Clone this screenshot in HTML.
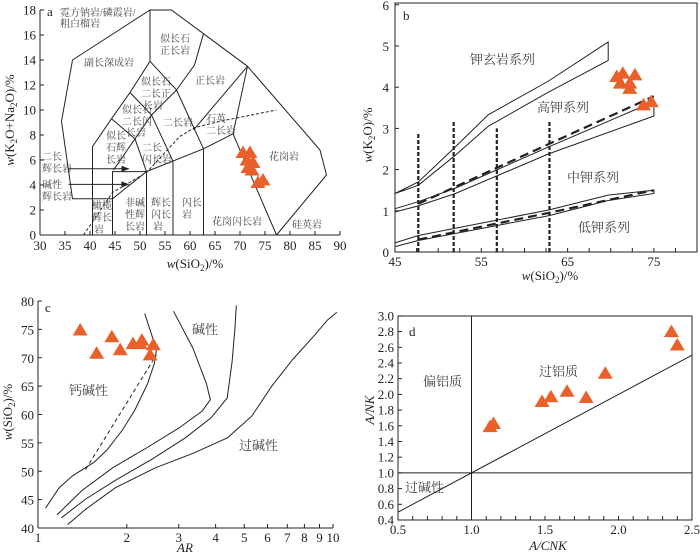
<!DOCTYPE html>
<html><head><meta charset="utf-8">
<style>
html,body{margin:0;padding:0;background:#fff;}
svg{display:block;}
.t{font-family:"Liberation Serif",serif;font-size:13px;fill:#222;}
.cn{font-family:"Liberation Serif","Noto Serif CJK SC",serif;font-size:10px;fill:#444;}
.cb{font-family:"Liberation Serif","Noto Serif CJK SC",serif;font-size:13px;fill:#444;}
</style></head>
<body>
<svg id="chart" width="700" height="553" viewBox="0 0 700 553" xmlns="http://www.w3.org/2000/svg"></svg>
<script>
// ---------- data ----------
const aSiO2 = [70.6, 72.0, 71.4, 72.6, 71.6, 72.4, 74.6, 73.6];
const aAlk  = [6.6, 6.6, 6.0, 5.8, 5.4, 5.2, 4.4, 4.2];
const aXTicks = [30,35,40,45,50,55,60,65,70,75,80,85,90];
const aYTicks = [0,2,4,6,8,10,12,14,16,18];
const bSiO2 = [70.7, 71.4, 72.8, 71.1, 72.2, 72.2, 73.8, 74.7];
const bK2O  = [4.26, 4.34, 4.30, 4.10, 4.10, 3.97, 3.57, 3.65];
const bXTicks = [45,55,65,75];
const bYTicks = [0,1,2,3,4,5,6];
const cAR   = [1.39, 1.58, 1.78, 1.90, 2.10, 2.22, 2.25, 2.46, 2.40];
const cSiO2 = [74.9, 70.8, 73.7, 71.4, 72.5, 72.5, 73.1, 72.3, 70.5];
const cXTicks = [1,2,3,4,5,6,7,8,9,10];
const cYTicks = [40,45,50,55,60,65,70,75,80];
const dACNK = [1.126, 1.15, 1.48, 1.54, 1.65, 1.78, 1.91, 2.36, 2.40];
const dANK  = [1.59, 1.63, 1.91, 1.97, 2.04, 1.96, 2.27, 2.80, 2.63];
const dXTicks = [0.5,1.0,1.5,2.0,2.5];
const dYTicks = [0.4,0.6,0.8,1.0,1.2,1.4,1.6,1.8,2.0,2.2,2.4,2.6,2.8,3.0];

const ax=v=>40+(v-30)*5, ay=v=>235-v*12.5;
const bx=v=>395+(v-45)*8.63, by=v=>252-v*41.2;
const cx=v=>38+Math.log10(v)*295, cy=v=>528-(v-40)*5.675;
const dx=v=>398+(v-0.5)*147, dy=v=>520-(v-0.4)*78.5;

const NS='http://www.w3.org/2000/svg';
const svg=document.getElementById('chart');
function mk(tag,attrs,parent){const e=document.createElementNS(NS,tag);for(const k in attrs)e.setAttribute(k,attrs[k]);(parent||svg).appendChild(e);return e;}
function poly(pts,fx,fy,style){return mk('polyline',Object.assign({points:pts.map(p=>fx(p[0]).toFixed(1)+','+fy(p[1]).toFixed(1)).join(' '),fill:'none',stroke:'#222','stroke-width':1},style||{}));}
function txt(x,y,s,cls,anchor){const e=mk('text',{x:x,y:y,class:cls,'text-anchor':anchor||'start'});e.textContent=s;return e;}
function tri(x,y){return mk('polygon',{points:`${x},${y-7} ${x-7.5},${y+5.5} ${x+7.5},${y+5.5}`,fill:'#E8602A'});}
function line(x1,y1,x2,y2,w){return mk('line',{x1:x1,y1:y1,x2:x2,y2:y2,stroke:'#222','stroke-width':w||1});}

// ================= Panel a =================
let e;
e=line(40,10,40,235);


e=line(40,235,340,235);


aYTicks.forEach(v=>{
  e=line(40,ay(v),44,ay(v));
  
  
  e=txt(36,ay(v)+4.5,String(v),'t','end');
  
  
});
aXTicks.forEach(v=>{
  e=line(ax(v),235,ax(v),231);
  
  
  e=txt(ax(v),250,String(v),'t','middle');
  
  
});
const aFields=[
 [[44.5,2.9],[36.5,2.9],[34.3,9.1],[36.5,14],[52,18],[56.3,18],[62.7,16.1],[71.5,13.5],[86,6.8],[87.3,4.8],[77.3,0]],
 [[40.5,0],[40.5,7.07],[44.3,9.3],[48,11.4],[52,13.9],[52,18]],
 [[52,13.9],[57.3,11.6],[60.9,13.6],[62.7,16.1]],
 [[44.3,9.3],[49,7.7],[51.3,5.07]],
 [[48,11.4],[52.3,9.6],[56.6,5.9],[56.6,0]],
 [[44.7,5.2],[49,7.7],[52.3,9.6],[57.3,11.6]],
 [[57.3,11.6],[62.7,6.9],[62.7,0]],
 [[60.7,8.4],[71.5,13.5]],
 [[71.5,13.5],[68.6,8.1],[77.3,0]],
 [[51.3,5.07],[62.7,6.9],[68.6,8.1]],
 [[44.5,0],[44.5,5.07],[51.3,5.07],[51.3,0]],
 [[44.5,2.9],[51.3,5.07]]
];
aFields.forEach(f=>{
  e=poly(f,ax,ay);
  
  
});
e=poly([[38.7,0],[44.5,3.4],[51.3,5.0],[55,6.6],[58,7.9],[61,8.6],[66,9.1],[77.3,10]],ax,ay,{'stroke-dasharray':'3,2'});


mk('defs',{}).innerHTML='<marker id="arr" markerWidth="8" markerHeight="6" refX="7" refY="3" orient="auto"><path d="M0,0 L8,3 L0,6 z" fill="#222"/></marker>';
[5.3,4.05].forEach(v=>{
  e=mk('line',{x1:ax(35.7),y1:ay(v),x2:ax(47.7),y2:ay(v),stroke:'#222','stroke-width':1,'marker-end':'url(#arr)'});
  
  
});
const aLabels=[[47,16,'a','t'],[60,16,'霓方钠岩/磷霞岩/','cn'],[60,27,'粗白榴岩','cn'],
 [160,42,'似长石','cn'],[160,54,'正长岩','cn'],[84,66,'副长深成岩','cn'],
 [141,85,'似长石','cn'],[141,97,'二长正','cn'],[143,109,'长岩','cn'],[195,84,'正长岩','cn'],
 [122,113,'似长石','cn'],[122,125,'二长闪','cn'],[126,136,'长岩','cn'],
 [106,139,'似长','cn'],[106,151,'石辉','cn'],[106,163,'长岩','cn'],
 [163,126,'二长岩','cn'],[206,122,'石英','cn'],[206,134,'二长岩','cn'],
 [142,151,'二长','cn'],[142,163,'闪长岩','cn'],[42,160,'二长','cn'],[42,172,'辉长岩','cn'],
 [42,188,'碱性','cn'],[42,200,'辉长岩','cn'],[269,160,'花岗岩','cn'],
 [92,209,'橄榄','cn'],[92,221,'辉长','cn'],[94,233,'岩','cn'],
 [125,206,'非碱','cn'],[125,218,'性辉','cn'],[125,230,'长岩','cn'],
 [151,206,'辉长','cn'],[151,218,'闪长','cn'],[153,230,'岩','cn'],
 [182,206,'闪长','cn'],[182,218,'岩','cn'],[212,225,'花岗闪长岩','cn'],[292,228,'硅英岩','cn']];
aLabels.forEach(l=>{
  e=txt(l[0],l[1],l[2],l[3]);
  
  
});
e=mk('text',{x:195,y:268,class:'t','text-anchor':'middle'});
e.innerHTML='<tspan font-style="italic">w</tspan>(SiO<tspan font-size="9" dy="3">2</tspan><tspan dy="-3">)/%</tspan>';


e=mk('text',{x:0,y:0,class:'t','text-anchor':'middle',transform:'translate(14,120) rotate(-90)'});
e.innerHTML='<tspan font-style="italic">w</tspan>(K<tspan font-size="9" dy="3">2</tspan><tspan dy="-3">O+Na</tspan><tspan font-size="9" dy="3">2</tspan><tspan dy="-3">O)/%</tspan>';


aSiO2.forEach((v,i)=>{
  e=tri(ax(v),ay(aAlk[i]));
  
  
});

// ================= Panel b =================
e=mk('rect',{x:395,y:3,width:302,height:249,fill:'none',stroke:'#222','stroke-width':1});


bYTicks.forEach(v=>{
  e=line(395,by(v),399,by(v));
  
  
  e=txt(389,by(v)+5,String(v),'t','end');
  
  
});
for(let v=45;v<=79;v+=2.5){
  e=line(bx(v),252,bx(v),248);
  
  
}
bXTicks.forEach(v=>{
  e=txt(bx(v),266,String(v),'t','middle');
  
  
});
const bLines=[
 [[45,1.42],[47.7,1.7],[52,2.55],[55.8,3.33],[62.8,4.15],[69.7,5.1],[69.7,4.65],[62.8,3.88],[55.8,3.05],[52,2.35],[47.7,1.62],[45,1.42]],
 [[45,1.05],[47.7,1.22],[52,1.55],[62.8,2.55],[70,3.2],[75,3.65],[75,3.3],[62.8,2.38],[52,1.42],[47.7,1.12],[45,0.97]],
 [[45,0.22],[47.7,0.4],[62.8,1.02],[69.7,1.38],[75,1.5],[75,1.42],[69.7,1.25],[62.8,0.88],[47.7,0.28],[45,0.13]]
];
bLines.forEach(f=>{
  e=poly(f,bx,by);
  
  
});
[[[47.7,1.17],[62.8,2.62],[75,3.78]],[[47.7,0.3],[62.8,0.95],[75,1.5]]].forEach(f=>{
  e=poly(f,bx,by,{'stroke-width':2.2,'stroke-dasharray':'9,5'});
  
  
});
[[47.7,2.9],[51.8,3.2],[56.8,3.0],[62.9,3.2]].forEach(p=>{
  e=mk('line',{x1:bx(p[0]),y1:by(0),x2:bx(p[0]),y2:by(p[1]),stroke:'#222','stroke-width':2.2,'stroke-dasharray':'4,2'});
  
  
});
[[403,20,'b','t'],[470,64,'钾玄岩系列','cb'],[537,112,'高钾系列','cb'],[567,182,'中钾系列','cb'],[578,232,'低钾系列','cb']].forEach(l=>{
  e=txt(l[0],l[1],l[2],l[3]);
  
  
});
e=mk('text',{x:550,y:280,class:'t','text-anchor':'middle'});
e.innerHTML='<tspan font-style="italic">w</tspan>(SiO<tspan font-size="9" dy="3">2</tspan><tspan dy="-3">)/%</tspan>';


e=mk('text',{x:0,y:0,class:'t','text-anchor':'middle',transform:'translate(372,135) rotate(-90)'});
e.innerHTML='<tspan font-style="italic">w</tspan>(K<tspan font-size="9" dy="3">2</tspan><tspan dy="-3">O)/%</tspan>';


bSiO2.forEach((v,i)=>{
  e=tri(bx(v),by(bK2O[i]));
  
  
});

// ================= Panel c =================
e=line(38,301,38,528);


e=line(38,528,333,528);


cYTicks.forEach(v=>{
  e=line(38,cy(v),42,cy(v));
  
  
  e=txt(34,cy(v)+5,String(v),'t','end');
  
  
});
cXTicks.forEach(v=>{
  e=line(cx(v),528,cx(v),524);
  
  
  e=txt(cx(v),542,String(v),'t','middle');
  
  
});
const cCurves=[
 [[1.06,43.5],[1.18,47.1],[1.31,49.2],[1.55,51.6],[1.71,53.7],[1.93,57.2],[2.13,60.8],[2.35,65.4],[2.48,69],[2.52,71.4],[2.44,73.7],[2.3,77.8]],
 [[1.16,42.3],[1.41,46.6],[1.79,50.6],[2.33,54.1],[3.0,57.6],[3.6,60.6],[3.84,62.6],[3.72,65.5],[3.35,71.7],[2.88,78.2]],
 [[1.2,41.8],[1.45,45.1],[1.83,48.4],[2.43,52.1],[3.16,55.9],[3.86,59.4],[4.38,62.9],[4.55,69.3],[4.65,75.1],[4.7,79.2]],
 [[1.26,40.6],[1.45,43.3],[1.83,47.1],[2.5,50.6],[3.37,53.2],[4.39,55.9],[5.3,59.7],[6.2,65],[7.3,69.7],[8.6,73.8],[9.6,76.7],[10.3,78]]
];
cCurves.forEach(f=>{
  e=poly(f,cx,cy);
  
  
});
e=poly([[1.45,50.3],[2.52,70.5]],cx,cy,{'stroke-dasharray':'4,3'});


[[45,312,'c','t'],[192,334,'碱性','cb'],[69,395,'钙碱性','cb'],[239,450,'过碱性','cb']].forEach(l=>{
  e=txt(l[0],l[1],l[2],l[3]);
  
  
});
e=txt(185,552,'AR','t','middle');
e.setAttribute('font-style','italic');


e=mk('text',{x:0,y:0,class:'t','text-anchor':'middle',transform:'translate(12,412) rotate(-90)'});
e.innerHTML='<tspan font-style="italic">w</tspan>(SiO<tspan font-size="9" dy="3">2</tspan><tspan dy="-3">)/%</tspan>';


cAR.forEach((v,i)=>{
  e=tri(cx(v),cy(cSiO2[i]));
  
  
});

// ================= Panel d =================
e=mk('rect',{x:398,y:316,width:294,height:204,fill:'none',stroke:'#222','stroke-width':1});


dYTicks.forEach(v=>{
  e=line(398,dy(v),402,dy(v));
  
  
  e=txt(394,dy(v)+4.5,v.toFixed(1),'t','end');
  
  
});
for(let v=0.6;v<2.45;v+=0.1){
  e=line(dx(v),520,dx(v),516);
  
  
}
dXTicks.forEach(v=>{
  e=txt(dx(v),534,v.toFixed(1),'t','middle');
  
  
});
e=line(dx(1),dy(3),dx(1),dy(0.4));


e=line(dx(0.5),dy(1),dx(2.5),dy(1));


e=line(dx(0.5),dy(0.5),dx(2.5),dy(2.5));


[[409,336,'d','t'],[423,386,'偏铝质','cb'],[539,376,'过铝质','cb'],[405,492,'过碱性','cb']].forEach(l=>{
  e=txt(l[0],l[1],l[2],l[3]);
  
  
});
e=txt(548,550,'A/CNK','t','middle');
e.setAttribute('font-style','italic');


e=mk('text',{x:0,y:0,class:'t','text-anchor':'middle','font-style':'italic',transform:'translate(374,410) rotate(-90)'});
e.textContent='A/NK';


dACNK.forEach((v,i)=>{
  e=tri(dx(v),dy(dANK[i]));
  
  
});
</script>
</body></html>
